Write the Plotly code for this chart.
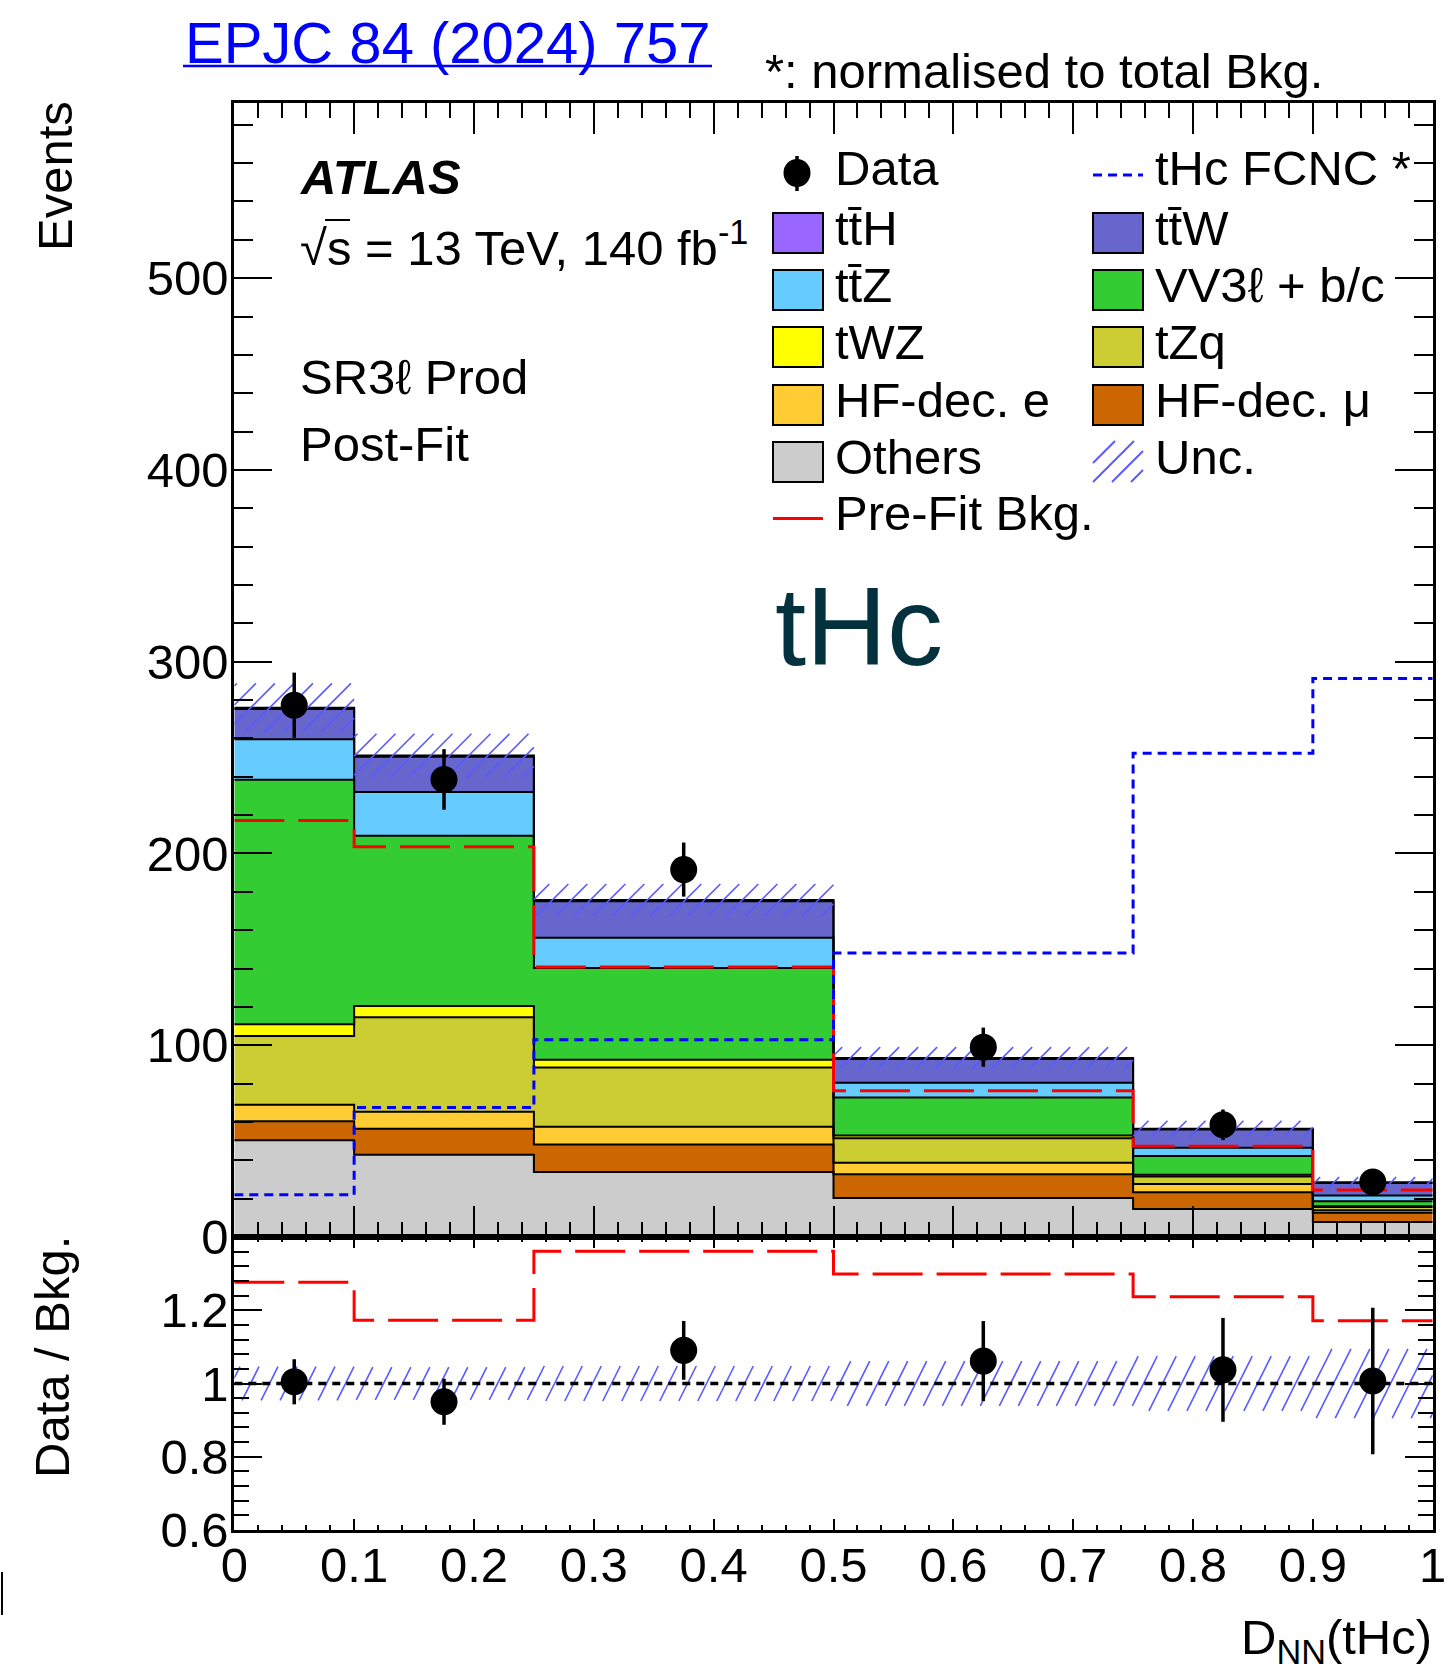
import math
import plotly.graph_objects as go

W, H = 1451, 1672

# ---- binning and per-process post-fit yields (events per bin) ----
edges = [0.0, 0.1, 0.25, 0.5, 0.75, 0.9, 1.0]

others = [50.5, 42.9, 33.9, 20.4, 14.6, 7.8]
hf_mu = [9.8, 13.6, 14.4, 12.3, 8.8, 4.9]
hf_e = [8.6, 8.8, 9.2, 6.0, 4.3, 1.2]
tzq = [35.9, 49.3, 30.9, 12.8, 3.9, 1.7]
twz = [6.2, 5.8, 4.0, 1.4, 0.9, 0.4]
vv3l = [127.5, 88.8, 47.9, 19.9, 9.8, 2.7]
ttz = [21.0, 22.9, 15.8, 7.6, 4.3, 3.0]
ttw = [15.8, 18.3, 19.0, 12.4, 9.4, 6.5]
tth = [0.7, 0.7, 0.6, 0.5, 0.4, 0.3]

data = [277.3, 238.6, 191.6, 99.0, 58.5, 28.7]
data_err = [17.0, 15.8, 14.1, 10.2, 8.0, 5.7]
prefit_bkg = [217.2, 203.5, 140.8, 76.2, 47.3, 24.5]
thc_fcnc = [22.0, 67.5, 102.8, 148.1, 252.3, 291.2]
bkg_unc = [12.7, 11.3, 8.4, 5.7, 4.2, 2.7]

x_ticks = [0, 0.1, 0.2, 0.3, 0.4, 0.5, 0.6, 0.7, 0.8, 0.9, 1.0]
x_ticklabels = ["0", "0.1", "0.2", "0.3", "0.4", "0.5", "0.6", "0.7", "0.8", "0.9", "1"]
y_ticks = [0, 100, 200, 300, 400, 500]
r_ticks = [0.6, 0.8, 1.0, 1.2, 1.4]
r_ticklabels = ["0.6", "0.8", "1", "1.2", ""]

FONT = "Liberation Sans, Arial, Helvetica, sans-serif"
FS = 49
HATCH = "#5a5aff"

stack = [
    ("Others", others, "#cccccc"),
    ("HF-dec. μ", hf_mu, "#cc6600"),
    ("HF-dec. e", hf_e, "#ffcc33"),
    ("tZq", tzq, "#cccc33"),
    ("tWZ", twz, "#ffff00"),
    ("VV3ℓ + b/c", vv3l, "#33cc33"),
    ("tt̄Z", ttz, "#66ccff"),
    ("tt̄W", ttw, "#6666cc"),
    ("tt̄H", tth, "#9966ff"),
]

# panel geometry (pixels)
X0, X1 = 234.3, 1432.7
Y_TOP, Y_MID, Y_BOT = 102.7, 1237.0, 1530.0
Y_MAX = 591.5
R_MIN, R_MAX = 0.6, 1.4

centers = [(a + b) / 2 for a, b in zip(edges[:-1], edges[1:])]


def step_y(vals):
    return list(vals) + [vals[-1]]


def hatch_lines(lo, hi, y0, sx, sy, slope, spacing):
    """Diagonal hatch segments filling each bin between lo and hi (data units)."""
    xs, ys = [], []
    for j in range(len(lo)):
        xa, xb = edges[j] * sx, edges[j + 1] * sx
        ya, yb = (lo[j] - y0) * sy, (hi[j] - y0) * sy
        k0 = math.floor((xa - yb / slope) / spacing)
        k1 = math.ceil((xb - ya / slope) / spacing)
        for k in range(k0, k1 + 1):
            c = k * spacing
            s0 = max(xa, c + ya / slope)
            s1 = min(xb, c + yb / slope)
            if s1 - s0 <= 0.5:
                continue
            for X in (s0, s1):
                xs.append(X / sx)
                ys.append(slope * (X - c) / sy + y0)
            xs.append(None)
            ys.append(None)
    return xs, ys


fig = go.Figure()

# stacked background: each process filled between its lower and upper step
base = [0.0] * len(centers)
levels = []
for i, (name, vals, col) in enumerate(stack):
    base = [b + v for b, v in zip(base, vals)]
    levels.append(base)
    fig.add_trace(go.Scatter(
        x=edges, y=step_y(base), mode="lines", name=name,
        line=dict(color=col, width=0, shape="hv"),
        fill="tozeroy" if i == 0 else "tonexty", fillcolor=col,
        xaxis="x", yaxis="y", showlegend=False, hoverinfo="skip"))
total = levels[-1]

# black histogram outlines of every stack level
for lvl in levels:
    fig.add_trace(go.Scatter(
        x=edges, y=step_y(lvl), mode="lines",
        line=dict(color="black", width=2, shape="hv"),
        xaxis="x", yaxis="y", showlegend=False, hoverinfo="skip"))

# total background uncertainty band (hatched)
sx = X1 - X0
hx, hy = hatch_lines([t - u for t, u in zip(total, bkg_unc)],
                     [t + u for t, u in zip(total, bkg_unc)],
                     0.0, sx, (Y_MID - Y_TOP) / Y_MAX, 1.0, 19)
fig.add_trace(go.Scatter(
    x=hx, y=hy, mode="lines", line=dict(color=HATCH, width=1.6),
    connectgaps=False, xaxis="x", yaxis="y", showlegend=False, hoverinfo="skip"))

# pre-fit background and signal shape
fig.add_trace(go.Scatter(
    x=edges, y=step_y(prefit_bkg), mode="lines",
    line=dict(color="#ff0000", width=3, shape="hv", dash="50px,14px"),
    xaxis="x", yaxis="y", showlegend=False))
fig.add_trace(go.Scatter(
    x=edges, y=step_y(thc_fcnc), mode="lines",
    line=dict(color="#0000ff", width=3, shape="hv", dash="9px,6px"),
    xaxis="x", yaxis="y", showlegend=False))

# data
fig.add_trace(go.Scatter(
    x=centers, y=data, mode="markers",
    marker=dict(color="black", size=27),
    error_y=dict(type="data", array=data_err, color="black", thickness=3.5, width=0),
    xaxis="x", yaxis="y", showlegend=False))

# ---- ratio panel ----
rel_unc = [u / t for u, t in zip(bkg_unc, total)]
rx, ry = hatch_lines([1 - r for r in rel_unc], [1 + r for r in rel_unc],
                     R_MIN, sx, (Y_BOT - Y_MID) / (R_MAX - R_MIN), 2.0, 19)
fig.add_trace(go.Scatter(
    x=rx, y=ry, mode="lines", line=dict(color=HATCH, width=1.6),
    connectgaps=False, xaxis="x2", yaxis="y2", showlegend=False, hoverinfo="skip"))
fig.add_trace(go.Scatter(
    x=[0, 1], y=[1, 1], mode="lines",
    line=dict(color="black", width=3.5, dash="8px,6px"),
    xaxis="x2", yaxis="y2", showlegend=False))
fig.add_trace(go.Scatter(
    x=edges, y=step_y([d / p for d, p in zip(data, prefit_bkg)]), mode="lines",
    line=dict(color="#ff0000", width=3, shape="hv", dash="50px,14px"),
    xaxis="x2", yaxis="y2", showlegend=False))
fig.add_trace(go.Scatter(
    x=centers, y=[d / t for d, t in zip(data, total)], mode="markers",
    marker=dict(color="black", size=27),
    error_y=dict(type="data", array=[e / t for e, t in zip(data_err, total)],
                 color="black", thickness=3.5, width=0),
    xaxis="x2", yaxis="y2", showlegend=False))


def px(x):
    return x / W


def py(y):
    return 1 - y / H


axis_common = dict(showline=True, linewidth=3, linecolor="black", mirror="allticks",
                   showgrid=False, zeroline=False, ticks="inside", tickwidth=2,
                   tickcolor="black", automargin=False,
                   tickfont=dict(family=FONT, size=FS, color="black"))

fig.update_layout(
    width=W, height=H, margin=dict(l=0, r=0, t=0, b=0, pad=0, autoexpand=False),
    paper_bgcolor="white", plot_bgcolor="white",
    font=dict(family=FONT, color="black"),
    xaxis=dict(domain=[px(X0), px(X1)], range=[0, 1], anchor="y",
               tickvals=x_ticks, showticklabels=False, ticklen=31,
               minor=dict(ticks="inside", ticklen=15, tickwidth=2, tickcolor="black",
                          tickmode="linear", tick0=0, dtick=0.02),
               **axis_common),
    yaxis=dict(domain=[py(Y_MID), py(Y_TOP)], range=[0, Y_MAX], anchor="x",
               tickvals=y_ticks, ticktext=[str(v) for v in y_ticks], ticklen=38,
               ticklabelstandoff=-7,
               minor=dict(ticks="inside", ticklen=19, tickwidth=2, tickcolor="black",
                          tickmode="linear", tick0=0, dtick=20),
               **axis_common),
    xaxis2=dict(domain=[px(X0), px(X1)], range=[0, 1], anchor="y2",
                tickvals=x_ticks, ticktext=x_ticklabels, ticklen=11,
                ticklabelstandoff=-10,
                minor=dict(ticks="inside", ticklen=5, tickwidth=2, tickcolor="black",
                           tickmode="linear", tick0=0, dtick=0.02),
                **axis_common),
    yaxis2=dict(domain=[py(Y_BOT), py(Y_MID)], range=[R_MIN, R_MAX], anchor="x2",
                tickvals=r_ticks, ticktext=r_ticklabels, ticklen=28,
                ticklabelstandoff=-7,
                minor=dict(ticks="inside", ticklen=15, tickwidth=2, tickcolor="black",
                           tickmode="linear", tick0=0.6, dtick=0.04),
                **axis_common),
)

annotations = []
shapes = []


def text(x, y, s, size=FS, anchor="left", color="black", angle=0):
    annotations.append(dict(
        x=px(x), y=py(y), xref="paper", yref="paper", text=s, showarrow=False,
        xanchor=anchor, yanchor="middle", textangle=angle,
        font=dict(family=FONT, size=size, color=color)))


def hline(x0, x1, y, color, width, dash=None):
    line = dict(color=color, width=width)
    if dash:
        line["dash"] = dash
    shapes.append(dict(type="line", xref="paper", yref="paper",
                       x0=px(x0), x1=px(x1), y0=py(y), y1=py(y), line=line))


# header texts
text(183, 43, "EPJC 84 (2024) 757", size=58, color="#0000ff")
hline(183, 712, 66, "#0000ff", 2.5)
text(763, 71, "*: normalised to total Bkg.")

# labels inside the main panel
text(298, 177, "<b><i>ATLAS</i></b>")
text(298, 244, "√s = 13 TeV, 140 fb<sup>-1</sup>")
hline(325, 350, 220, "black", 2)
text(298, 377, "SR3ℓ Prod")
text(298, 444, "Post-Fit")
text(773, 626, "tHc", size=112, color="#03323e")

# legend
row_c = [173, 233, 290, 347, 405, 462, 518.5]
C1_BOX, C2_BOX = 773, 1093
C1_TXT, C2_TXT = 833, 1153
col1 = [("tt̄H", "#9966ff"), ("tt̄Z", "#66ccff"), ("tWZ", "#ffff00"),
        ("HF-dec. e", "#ffcc33"), ("Others", "#cccccc")]
col2 = [("tt̄W", "#6666cc"), ("VV3ℓ + b/c", "#33cc33"), ("tZq", "#cccc33"),
        ("HF-dec. μ", "#cc6600")]
for cbox, ctxt, entries in [(C1_BOX, C1_TXT, col1), (C2_BOX, C2_TXT, col2)]:
    for i, (lab, col) in enumerate(entries):
        yc = row_c[i + 1]
        shapes.append(dict(type="rect", xref="paper", yref="paper",
                           x0=px(cbox), x1=px(cbox + 50), y0=py(yc + 20), y1=py(yc - 20),
                           fillcolor=col, line=dict(color="black", width=2)))
        text(ctxt, yc - 5, lab)

# Data entry: marker with vertical error bar
shapes.append(dict(type="line", xref="paper", yref="paper",
                   x0=px(797), x1=px(797), y0=py(191), y1=py(156),
                   line=dict(color="black", width=3.5)))
shapes.append(dict(type="circle", xref="paper", yref="paper",
                   x0=px(797 - 13.5), x1=px(797 + 13.5), y0=py(173 + 14), y1=py(173 - 14),
                   fillcolor="black", line=dict(color="black", width=0)))
text(C1_TXT, 168, "Data")

# signal entry
hline(1093, 1143, 175, "#0000ff", 3, "9px,6px")
text(C2_TXT, 168, "tHc FCNC *")

# uncertainty entry
for x_start, y_start, x_end, y_end in [(1093, 463, 1115, 441), (1093, 482, 1134, 441),
                                       (1112, 482, 1143, 451), (1131, 482, 1143, 470)]:
    shapes.append(dict(type="line", xref="paper", yref="paper",
                       x0=px(x_start), x1=px(x_end), y0=py(y_start), y1=py(y_end),
                       line=dict(color=HATCH, width=2)))
text(C2_TXT, row_c[5] - 5, "Unc.")

# pre-fit entry
hline(773, 823, 518.5, "#ff0000", 3)
text(C1_TXT, 513, "Pre-Fit Bkg.")

# axis titles
text(55, 176, "Events", angle=-90, anchor="center")
text(52, 1357, "Data / Bkg.", angle=-90, anchor="center")
annotations.append(dict(
    x=px(1434), y=py(1640), xref="paper", yref="paper", text="D<sub>NN</sub>(tHc)",
    showarrow=False, xanchor="right", yanchor="middle",
    font=dict(family=FONT, size=FS, color="black")))

# stray mark at the lower left edge
shapes.append(dict(type="line", xref="paper", yref="paper",
                   x0=px(2), x1=px(2), y0=py(1572), y1=py(1615),
                   line=dict(color="black", width=2)))

fig.update_layout(annotations=annotations, shapes=shapes)
fig.write_html("out.html")
